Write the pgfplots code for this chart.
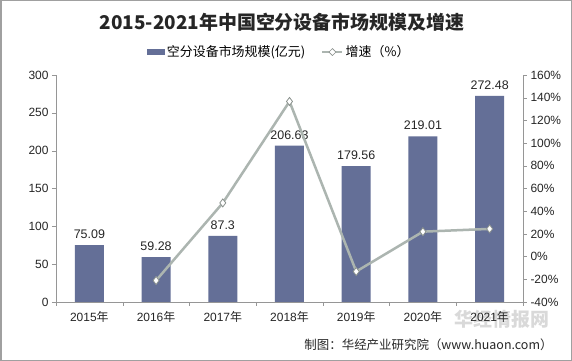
\documentclass[border=0pt]{standalone}
\usepackage{pgfplots}
\pgfplotsset{compat=1.18}
\usepackage{fontspec}
\setmainfont{Liberation Sans}
\newfontfamily\cjk{Noto Sans CJK SC}
\definecolor{barc}{RGB}{100,111,151}
\definecolor{linec}{RGB}{172,181,176}
\definecolor{axc}{RGB}{150,150,150}
\begin{document}
\begin{tikzpicture}
\useasboundingbox (0,0) rectangle (572bp,361bp);
\fill[white] (0,0) rectangle (572bp,361bp);
\draw[axc!90, line width=1.5bp] (0.75bp,0.75bp) rectangle (571.25bp,360.25bp);
% title
\node[font=\cjk\bfseries\fontsize{19}{21}\selectfont, text=black!85] at (282bp,339bp) {2015-2021年中国空分设备市场规模及增速};
% watermark
\node[font=\cjk\bfseries\fontsize{19}{21}\selectfont, text=black!15] at (502bp,42bp) {华经情报网};
% source
\node[font=\cjk\fontsize{12.5}{14}\selectfont, anchor=east, text=black!85] at (556bp,16bp) {制图：华经产业研究院（www.huaon.com）};
\begin{axis}[
  at={(56bp,59bp)}, anchor=south west,
  scale only axis, width=467bp, height=227bp,
  ymin=0, ymax=300, ytick={0,50,...,300},
  xmin=-0.5, xmax=6.5,
  xtick={0,...,6},
  xticklabels={2015{\cjk 年},2016{\cjk 年},2017{\cjk 年},2018{\cjk 年},2019{\cjk 年},2020{\cjk 年},2021{\cjk 年}},
  minor xtick={-0.5,0.5,...,6.5},
  major x tick style={draw=none},
  minor tick length=4bp,
  major tick length=4bp,
  tick align=outside,
  axis x line*=bottom, axis y line*=left,
  axis line style={axc}, tick style={axc},
  every tick label/.style={font=\fontsize{12}{14}\selectfont, text=black!85},
  /pgf/number format/assume math mode=true,
  xticklabel style={yshift=-2bp},
  ybar, bar width=29bp,
  nodes near coords, point meta=explicit symbolic,
  every node near coord/.append style={font=\fontsize{12.5}{14}\selectfont, text=black!85, yshift=3bp},
  legend style={at={(0.478,1.101)}, anchor=center, draw=none, fill=none,
    font=\cjk\fontsize{13}{15}\selectfont, legend columns=2,
    /tikz/every even column/.append style={column sep=14bp}},
  legend cell align=left,
]
\addplot[fill=barc, draw=none, legend image code/.code={\fill[barc] (0bp,-3bp) rectangle (18bp,3bp);}] coordinates {
  (0,75.09)[75.09] (1,59.28)[59.28] (2,87.3)[87.3] (3,206.63)[206.63]
  (4,179.56)[179.56] (5,219.01)[219.01] (6,272.48)[272.48]};
\addlegendentry{空分设备市场规模(亿元)}
\addlegendimage{legend image code/.code={
  \draw[linec, line width=2.5bp] (0bp,0bp) -- (20bp,0bp);
  \draw[fill=white, draw=linec!80!black, line width=0.6bp] (10bp,3.5bp) -- (13.5bp,0bp) -- (10bp,-3.5bp) -- (6.5bp,0bp) -- cycle;}}
\addlegendentry{增速（\%）}
\end{axis}
\begin{axis}[
  at={(56bp,59bp)}, anchor=south west,
  scale only axis, width=467bp, height=227bp,
  ymin=-40, ymax=160, ytick={-40,-20,...,160},
  xmin=-0.5, xmax=6.5,
  axis x line=none, axis y line*=right,
  axis line style={axc}, tick style={axc},
  tick align=outside, major tick length=4bp,
  yticklabel={\pgfmathprintnumber{\tick}\%},
  every tick label/.style={font=\fontsize{12}{14}\selectfont, text=black!85},
  /pgf/number format/assume math mode=true,
]
\addplot[linec, line width=2.5bp, mark=diamond*, mark size=4bp, mark options={fill=white, draw=linec!80!black, line width=0.8bp}] coordinates {
  (1,-21.05) (2,47.27) (3,136.69) (4,-13.10) (5,21.97) (6,24.41)};
\end{axis}
\end{tikzpicture}
\end{document}
